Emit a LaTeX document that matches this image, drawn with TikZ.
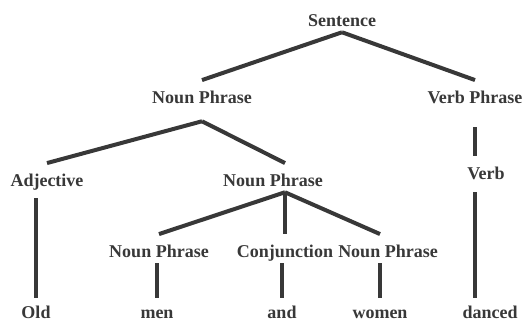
\documentclass[tikz,border=0pt]{standalone}
\usepackage{fontspec}
\setmainfont{Liberation Serif}[BoldFont={Liberation Serif Bold}]
\newfontfamily\treefont{Liberation Serif Bold}
\definecolor{treegray}{HTML}{383838}
\tikzstyle{word} = [anchor=base, inner sep=0pt, text=treegray,
  font=\fontsize{13.5}{16}\selectfont\treefont,
  text height=17pt, text depth=4.5pt]
\tikzstyle{leaf} = [word, text height=15pt]
\tikzstyle{branch} = [draw, line width=3pt, color=treegray]

\begin{document}
\begin{tikzpicture}[x=0.75pt, y=-0.75pt]
    \useasboundingbox (0,0) rectangle (527,322);
    % phrases
    \node [word] (sent) at (342,26) {Sentence};
    \node [word, text depth=13.5pt] (np1) at (202,103) {Noun Phrase};
    \node [word, text depth=18pt] (vp) at (475,103) {Verb Phrase};
    \node [word, text depth=9pt] (adj) at (47,186) {Adjective};
    \node [word] (np2) at (273,186) {Noun Phrase};
    \node [word, text depth=9.75pt] (verb) at (486,179) {Verb};
    \node [word] (np3l) at (159,257) {Noun Phrase};
    \node [word] (conj) at (285,257) {Conjunction};
    \node [word] (np3r) at (388,257) {Noun Phrase};

    % words
    \node [leaf] (old) at (36,318) {Old};
    \node [leaf] (men) at (157,318) {men};
    \node [leaf] (and) at (282,318) {and};
    \node [leaf] (women) at (380,318) {women};
    \node [leaf] (danced) at (490,318) {danced};

    \path [branch] (sent.south) -- (np1.north);
    \path [branch] (sent.south) -- (vp.north);
    \path [branch] (np1.south) -- (adj.north);
    \path [branch] (np1.south) -- (np2.north -| conj);
    \path [branch] (vp.south) -- (verb.north -| vp.south);
    \path [branch] (np2.south -| conj) -- (np3l.north);
    \path [branch] (np2.south -| conj) -- (conj.north);
    \path [branch] (np2.south -| conj) -- (np3r.north -| women);

    \path [branch] (adj.south -| old) -- (old.north);
    \path [branch] (np3l.south -| men) -- (men.north);
    \path [branch] (conj.south -| and) -- (and.north);
    \path [branch] (np3r.south -| women) -- (women.north);
    \path [branch] (verb.south -| vp.south) -- (danced.north -| vp.south);
\end{tikzpicture}
\end{document}
